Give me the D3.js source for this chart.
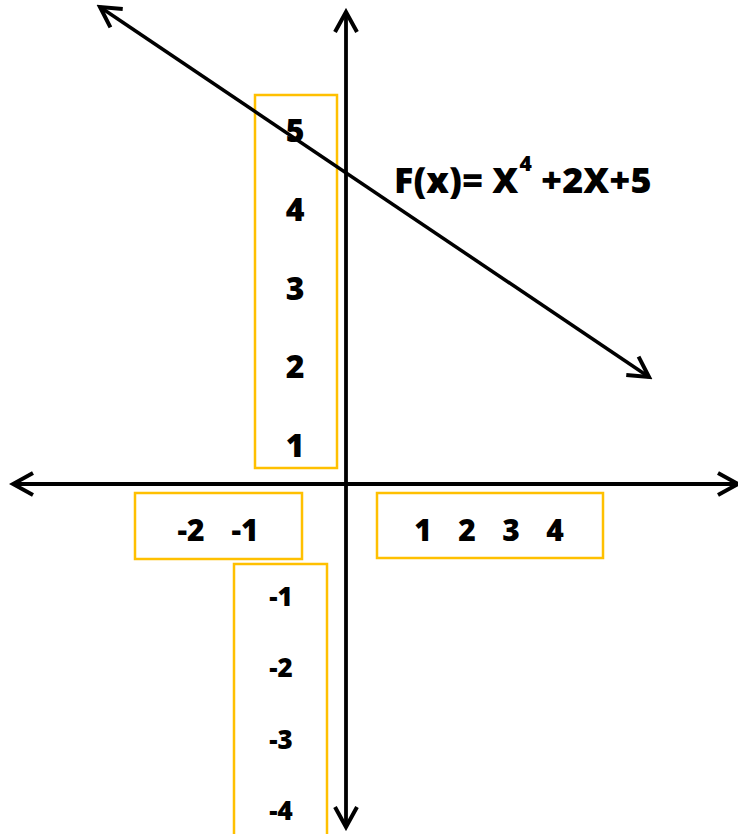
<!DOCTYPE html>
<html>
<head>
<meta charset="utf-8">
<script src="https://cdn.jsdelivr.net/npm/d3@7"></script>
<style>
  html, body { margin: 0; padding: 0; background: #fff; }
  svg { display: block; }
  text { font-family: "Open Sans", "Noto Sans", sans-serif; font-weight: 800; fill: #000; }
</style>
</head>
<body>
<svg id="chart" width="738" height="834"></svg>
<script>
// ---- data ----
const yPosTicks = ["5", "4", "3", "2", "1"];
const yNegTicks = ["-1", "-2", "-3", "-4"];
const xNegTicks = ["-2", "-1"];
const xPosTicks = ["1", "2", "3", "4"];
// arrow endpoints in plane units (origin at axes crossing)
const xAxisEnds = [-6.66, 7.84];
const yAxisEnds = [9.44, -6.86];
const lineStart = [-4.92, 9.54];
const lineEnd = [6.06, 2.14];
const titleParts = ["F(x)= X", "4", " +2X+5"];

// ---- scales ----
const svg = d3.select("#chart");
const x = d3.scaleLinear().domain([0, 1]).range([346, 396]);
const y = d3.scaleLinear().domain([0, 1]).range([484, 434]);

const defs = svg.append("defs");
defs.append("marker")
  .attr("id", "chev")
  .attr("markerUnits", "userSpaceOnUse")
  .attr("viewBox", "-24 -14 28 28")
  .attr("markerWidth", 28).attr("markerHeight", 28)
  .attr("refX", 0).attr("refY", 0)
  .attr("orient", "auto-start-reverse")
  .append("path")
  .attr("d", "M-20,-11 L0,0 L-20,11")
  .attr("fill", "none").attr("stroke", "#000")
  .attr("stroke-width", 4).attr("stroke-linejoin", "miter");

const gold = "#FFC000";

// ---- boxes ----
const boxes = [
  { x0: 255, y0: 95, x1: 337, y1: 468 },
  { x0: 135, y0: 493, x1: 302, y1: 559 },
  { x0: 377, y0: 493, x1: 603, y1: 558 },
  { x0: 234, y0: 564, x1: 327, y1: 845 }
];
svg.append("g").selectAll("rect").data(boxes).join("rect")
  .attr("x", d => d.x0).attr("y", d => d.y0)
  .attr("width", d => d.x1 - d.x0).attr("height", d => d.y1 - d.y0)
  .attr("fill", "none").attr("stroke", gold).attr("stroke-width", 2.5);

// ---- axes ----
svg.append("line")
  .attr("x1", x(xAxisEnds[0])).attr("y1", y(0))
  .attr("x2", x(xAxisEnds[1])).attr("y2", y(0))
  .attr("stroke", "#000").attr("stroke-width", 3.8)
  .attr("marker-start", "url(#chev)").attr("marker-end", "url(#chev)");
svg.append("line")
  .attr("x1", x(0)).attr("y1", y(yAxisEnds[0]))
  .attr("x2", x(0)).attr("y2", y(yAxisEnds[1]))
  .attr("stroke", "#000").attr("stroke-width", 3.8)
  .attr("marker-start", "url(#chev)").attr("marker-end", "url(#chev)");

// ---- function line ----
svg.append("path")
  .datum([lineStart, lineEnd])
  .attr("d", d3.line().x(d => x(d[0])).y(d => y(d[1])))
  .attr("fill", "none").attr("stroke", "#000").attr("stroke-width", 3.5)
  .attr("marker-start", "url(#chev)").attr("marker-end", "url(#chev)");

// ---- tick labels ----
const yPosScale = d3.scalePoint().domain(yPosTicks).range([142, 457]);
svg.append("g").selectAll("text").data(yPosTicks).join("text")
  .attr("x", 295).attr("y", d => yPosScale(d))
  .attr("text-anchor", "middle").attr("font-size", 32).text(d => d);

const yNegScale = d3.scalePoint().domain(yNegTicks).range([606, 820]);
svg.append("g").selectAll("text").data(yNegTicks).join("text")
  .attr("x", 281).attr("y", d => yNegScale(d))
  .attr("text-anchor", "middle").attr("font-size", 26).text(d => d);

const xNegScale = d3.scalePoint().domain(xNegTicks).range([191, 245]);
svg.append("g").selectAll("text").data(xNegTicks).join("text")
  .attr("x", d => xNegScale(d)).attr("y", 541)
  .attr("text-anchor", "middle").attr("font-size", 30).text(d => d);

const xPosScale = d3.scalePoint().domain(xPosTicks).range([423, 555]);
svg.append("g").selectAll("text").data(xPosTicks).join("text")
  .attr("x", d => xPosScale(d)).attr("y", 541)
  .attr("text-anchor", "middle").attr("font-size", 30).text(d => d);

// ---- title ----
const t = svg.append("text").attr("x", 394).attr("y", 193).attr("font-size", 36);
t.append("tspan").text(titleParts[0]);
t.append("tspan").attr("font-size", 21).attr("dy", -22).attr("dx", 1).text(titleParts[1]);
t.append("tspan").attr("dy", 22).text(titleParts[2]);
</script>
</body>
</html>
